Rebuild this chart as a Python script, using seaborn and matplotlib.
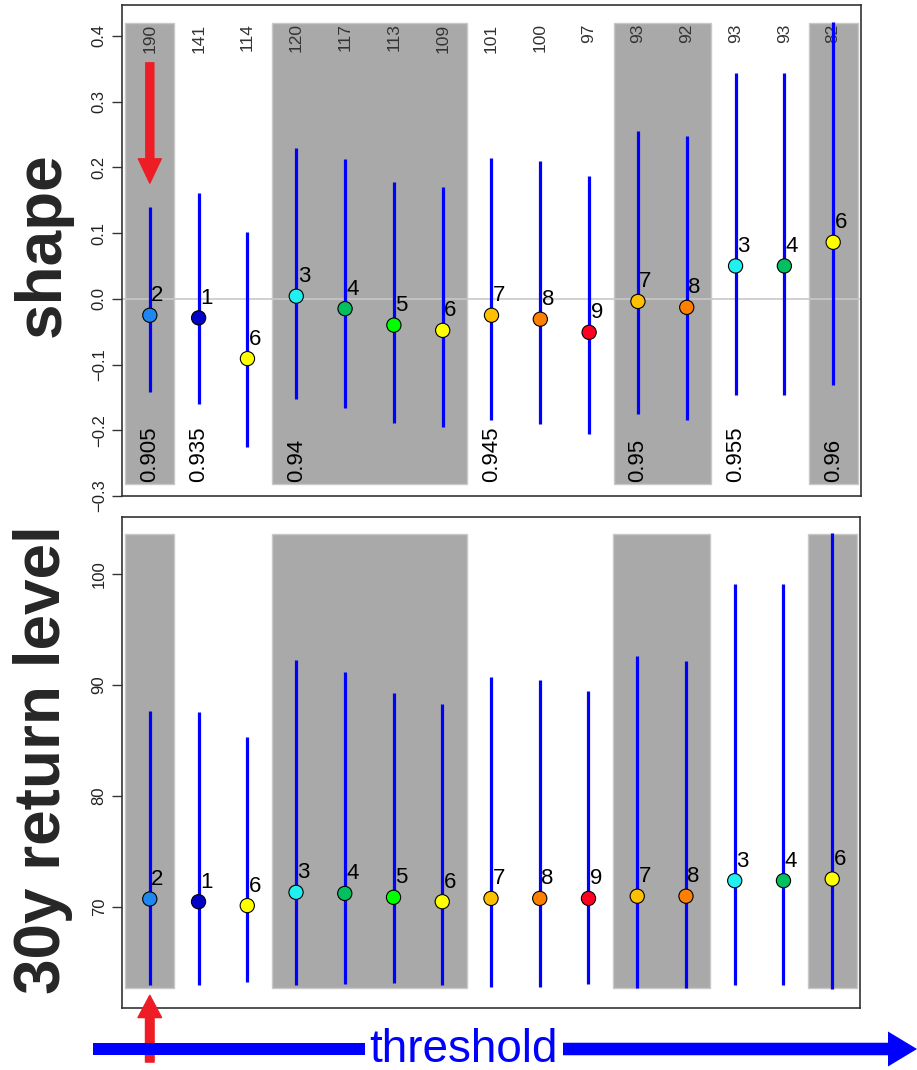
import matplotlib
matplotlib.use("Agg")
import matplotlib.pyplot as plt
from matplotlib.patches import Rectangle, FancyArrow
import seaborn as sns
import pandas as pd

# ---------------- data ----------------
thresholds = ["0.905", "0.935", "0.935", "0.94", "0.94", "0.94", "0.94",
              "0.945", "0.945", "0.945", "0.95", "0.95", "0.955", "0.955", "0.96"]
counts = [190, 141, 114, 120, 117, 113, 109, 101, 100, 97, 93, 92, 93, 93, 82]
clusters = [2, 1, 6, 3, 4, 5, 6, 7, 8, 9, 7, 8, 3, 4, 6]

shape_est = [-0.025, -0.029, -0.091, 0.004, -0.015, -0.040, -0.048,
             -0.025, -0.031, -0.051, -0.004, -0.013, 0.050, 0.050, 0.086]
shape_lo = [-0.142, -0.160, -0.225, -0.153, -0.166, -0.189, -0.195,
            -0.184, -0.190, -0.206, -0.175, -0.184, -0.146, -0.146, -0.131]
shape_hi = [0.140, 0.161, 0.101, 0.229, 0.213, 0.178, 0.170,
            0.214, 0.210, 0.187, 0.255, 0.248, 0.343, 0.343, 0.421]

rl_est = [70.7, 70.45, 70.1, 71.3, 71.2, 70.85, 70.45,
          70.75, 70.75, 70.75, 70.95, 70.95, 72.35, 72.35, 72.5]
rl_lo = [62.9, 62.9, 63.2, 62.93, 63.02, 63.14, 62.93,
         62.78, 62.78, 63.02, 62.69, 62.69, 62.93, 62.93, 62.55]
rl_hi = [87.7, 87.6, 85.3, 92.3, 91.2, 89.3, 88.3,
         90.7, 90.5, 89.5, 92.6, 92.2, 99.1, 99.1, 103.7]

cluster_colors = {1: "#0000C8", 2: "#1E88F0", 3: "#20F0F0", 4: "#00C060",
                  5: "#00FF00", 6: "#FFFF00", 7: "#FFC000", 8: "#FF8000",
                  9: "#FF0020"}

shape_ticks = [-0.3, -0.2, -0.1, 0.0, 0.1, 0.2, 0.3, 0.4]
rl_ticks = [70, 80, 90, 100]

# ---------------- style ----------------
sns.set_style("white")
plt.rcParams["font.family"] = ["Liberation Sans", "DejaVu Sans"]

W, H = 917, 1070
fig = plt.figure(figsize=(W / 100, H / 100), dpi=100)


def axes_px(left, top, right, bottom):
    return fig.add_axes([left / W, 1 - bottom / H, (right - left) / W, (bottom - top) / H])


ax1 = axes_px(122, 5, 861, 496)
ax2 = axes_px(122, 517, 860, 1008)

n = len(counts)
xs = list(range(n))
df = pd.DataFrame({"x": xs, "thr": thresholds, "cnt": counts, "k": clusters,
                   "shape": shape_est, "slo": shape_lo, "shi": shape_hi,
                   "rl": rl_est, "rlo": rl_lo, "rhi": rl_hi})

# groups of equal threshold
groups = []
for i, t in enumerate(thresholds):
    if not groups or groups[-1][0] != t:
        groups.append([t, i, i])
    else:
        groups[-1][2] = i

GREY = "#A9A9A9"


def draw_panel(ax, est, lo, hi, ylim, rect_lim, ticks, ticklabels):
    ax.set_xlim(-0.57, n - 1 + 0.57)
    ax.set_ylim(*ylim)
    for gi, (t, a, b) in enumerate(groups):
        if gi % 2 == 0:
            ax.add_patch(Rectangle((a - 0.5, rect_lim[0]), b - a + 1, rect_lim[1] - rect_lim[0],
                                   facecolor=GREY, edgecolor="#C8C8C8", lw=1, zorder=1))
    ax.vlines(df["x"], df[lo], df[hi], color="#0000FF", lw=2.3, zorder=3)
    sns.scatterplot(data=df, x="x", y=est, hue="k", palette=cluster_colors,
                    s=105, edgecolor="black", linewidth=0.8, legend=False, ax=ax, zorder=4)
    for x, y, k in zip(df["x"], df[est], df["k"]):
        ax.annotate(str(k), (x, y), xytext=(1.0, 6.5), textcoords="offset points",
                    ha="left", va="bottom", fontsize=16, color="black", zorder=5)
    ax.set_xticks([])
    ax.set_yticks(ticks)
    ax.set_yticklabels(ticklabels, rotation=90, va="center", fontsize=12, color="#222222")
    ax.tick_params(axis="y", direction="out", length=7, width=1, color="#333333",
                   pad=4, left=True)
    ax.set_xlabel("")
    ax.set_ylabel("")
    for sp in ax.spines.values():
        sp.set_color("#333333")
        sp.set_linewidth(1.2)
        sp.set_visible(True)


shape_labels = [f"{v:.1f}".replace("-", "\u2212") for v in shape_ticks]
draw_panel(ax1, "shape", "slo", "shi", (-0.300, 0.447), (-0.282, 0.420),
           shape_ticks, shape_labels)
ax1.axhline(0, color="#C8C8C8", lw=1.2, zorder=2)

draw_panel(ax2, "rl", "rlo", "rhi", (60.86, 105.17), (62.64, 103.64),
           rl_ticks, [str(v) for v in rl_ticks])

# counts along the top of the shape panel
for x, c in zip(xs, counts):
    ax1.text(x, 0.419, str(c), rotation=90, ha="center", va="top",
             fontsize=12.5, color="#333333", zorder=2)

# threshold labels at bottom of shape panel
for t, a, b in groups:
    ax1.text(a, -0.279, t, rotation=90, ha="center", va="bottom",
             fontsize=16, color="black", zorder=5)

# panel titles
fig.text(43 / W, 1 - 245 / H, "shape", rotation=90, ha="center", va="center",
         fontsize=46, fontweight="bold")
fig.text(43 / W, 1 - 760 / H, "30y return level", rotation=90, ha="center", va="center",
         fontsize=46, fontweight="bold")

# red arrows
RED = "#EE1C24"
ax1.annotate("", xy=(0, 0.176), xytext=(0, 0.359),
             arrowprops=dict(arrowstyle="simple,head_length=1.75,head_width=1.65,tail_width=0.58",
                             color=RED, mutation_scale=10, shrinkA=0, shrinkB=0), zorder=6)

# blue threshold arrow (figure inches), broken by the label
BLUE = "#0000FF"
fig.add_artist(FancyArrow(0.93, 0.21, 3.65 - 0.93, 0, width=0.125, head_width=0.125,
                          head_length=0.0, length_includes_head=True, color=BLUE,
                          transform=fig.dpi_scale_trans, lw=0))
fig.add_artist(FancyArrow(5.63, 0.21, 9.17 - 5.63, 0, width=0.125, head_width=0.35,
                          head_length=0.29, length_includes_head=True, color=BLUE,
                          transform=fig.dpi_scale_trans, lw=0))
fig.text(4.635, 0.085, "threshold", transform=fig.dpi_scale_trans, ha="center",
         va="baseline", fontsize=33, color=BLUE, zorder=5)

ax2.annotate("", xy=(0, 62.0), xytext=(0, 55.98), annotation_clip=False,
             arrowprops=dict(arrowstyle="simple,head_length=1.6,head_width=1.7,tail_width=0.62",
                             color=RED, mutation_scale=10, shrinkA=0, shrinkB=0), zorder=7)

fig.savefig("out.png", dpi=100)
